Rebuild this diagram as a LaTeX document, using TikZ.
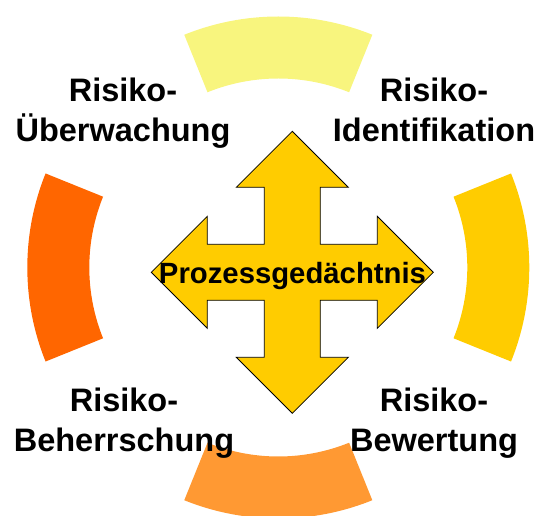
\documentclass[tikz,border=0pt]{standalone}
\usepackage{fontspec}
\setmainfont{Liberation Sans}
\begin{document}
\begin{tikzpicture}[x=1pt,y=1pt,
  seg/.style={draw=none},
  label/.style={align=center,anchor=base,inner sep=0pt,font=\bfseries\fontsize{32.5}{40}\selectfont},
  arrowshape/.style={fill=arrowfill,draw=black,line width=0.8pt,line join=miter}]
\definecolor{segtop}{HTML}{F8F57E}
\definecolor{segright}{HTML}{FFCC00}
\definecolor{segbottom}{HTML}{FF9933}
\definecolor{segleft}{HTML}{FF6600}
\definecolor{arrowfill}{HTML}{FFCC00}
\useasboundingbox (0,0) rectangle (539,516);
\coordinate (c) at (278.3,248.5);
\begin{scope}[shift={(c)}]
  \fill[seg,segtop] (68:251) arc[start angle=68,end angle=112,radius=251] -- (112:189) arc[start angle=112,end angle=68,radius=189] -- cycle;
  \fill[seg,segright] (-22:251) arc[start angle=-22,end angle=22,radius=251] -- (22:189) arc[start angle=22,end angle=-22,radius=189] -- cycle;
  \fill[seg,segbottom] (248:251) arc[start angle=248,end angle=292,radius=251] -- (292:189) arc[start angle=292,end angle=248,radius=189] -- cycle;
  \fill[seg,segleft] (158:251) arc[start angle=158,end angle=202,radius=251] -- (202:189) arc[start angle=202,end angle=158,radius=189] -- cycle;
\end{scope}
\coordinate (ac) at (292.3,243.7);
\begin{scope}[shift={(ac)}]
  \draw[arrowshape] (0,141) -- (56,85) -- (28,85) -- (28,28) -- (85,28) -- (85,56) -- (141,0) -- (85,-56) -- (85,-28) -- (28,-28) -- (28,-85) -- (56,-85) -- (0,-141) -- (-56,-85) -- (-28,-85) -- (-28,-28) -- (-85,-28) -- (-85,-56) -- (-141,0) -- (-85,56) -- (-85,28) -- (-28,28) -- (-28,85) -- (-56,85) -- cycle;
\end{scope}
\node[label] (ueb) at (123,374.3) {Risiko-\\Überwachung};
\node[label] (ident) at (434,374.3) {Risiko-\\Identifikation};
\node[label] (beh) at (124,64.3) {Risiko-\\Beherrschung};
\node[label] (bew) at (434,64.3) {Risiko-\\Bewertung};
\node[anchor=base,inner sep=0pt,font=\bfseries\fontsize{29.3}{34}\selectfont] (proz) at (292.5,232.7) {Prozessgedächtnis};
\end{tikzpicture}
\end{document}
